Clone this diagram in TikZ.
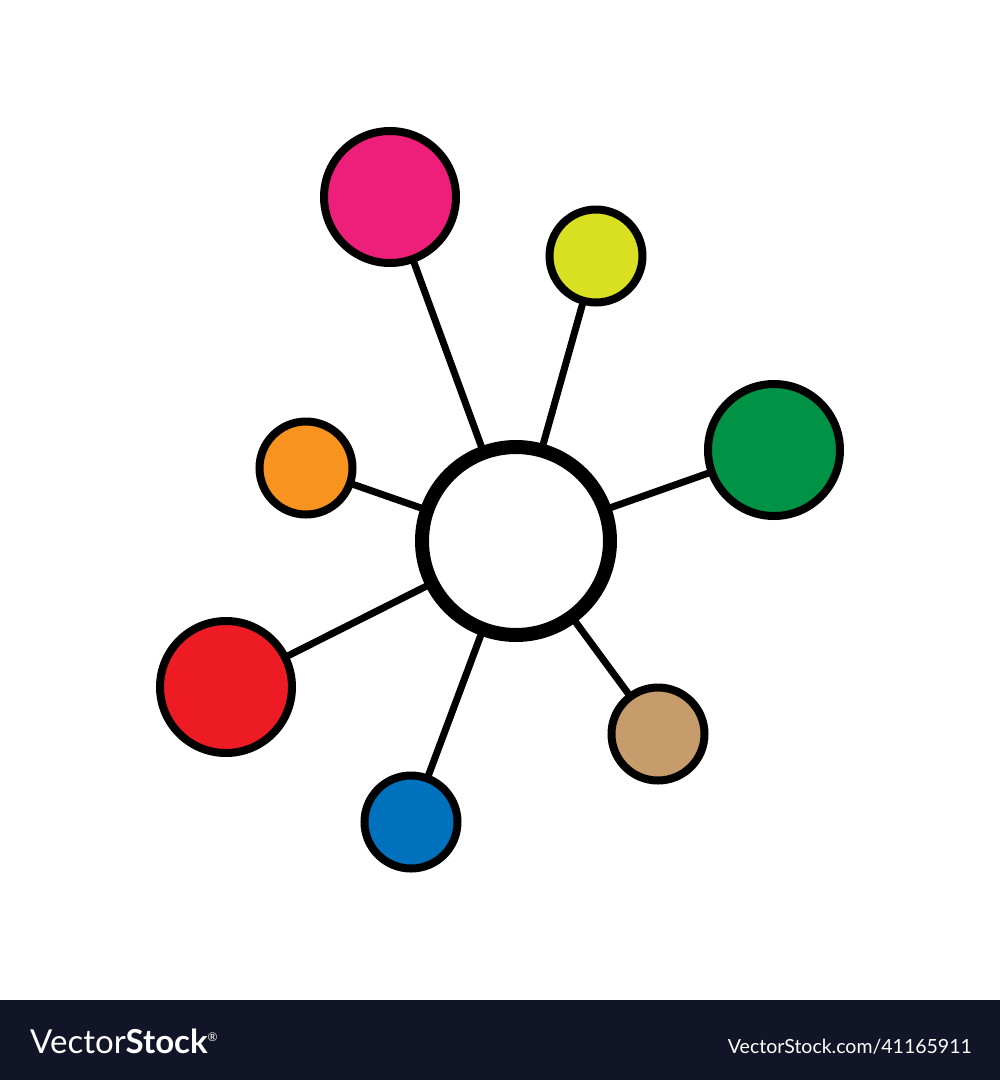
\documentclass[tikz,border=0pt]{standalone}
\usepackage{fontspec}
\setmainfont{Lato}
\definecolor{cmag}{HTML}{EE1F7B}
\definecolor{cyel}{HTML}{D9E021}
\definecolor{cgrn}{HTML}{009245}
\definecolor{cora}{HTML}{F7931E}
\definecolor{cred}{HTML}{ED1C24}
\definecolor{cblu}{HTML}{0071BC}
\definecolor{ctan}{HTML}{C69C6D}
\definecolor{cbar}{HTML}{121427}
\begin{document}
\begin{tikzpicture}[x=1pt,y=-1pt,
  hub/.style={circle,draw=black,line width=14pt,fill=white,minimum size=188pt,inner sep=0pt},
  big/.style={circle,draw=black,line width=8pt,minimum size=132pt,inner sep=0pt},
  small/.style={circle,draw=black,line width=8pt,minimum size=93pt,inner sep=0pt},
  link/.style={line width=7pt,black}]
\useasboundingbox (0,0) rectangle (1000,1080);
\fill[white] (0,0) rectangle (1000,1080);
\coordinate (hc) at (516,541);
\coordinate (mc) at (390,197);
\coordinate (yc) at (596,256);
\coordinate (gc) at (774,450);
\coordinate (oc) at (306,468);
\coordinate (rc) at (226,687);
\coordinate (bc) at (411,822);
\coordinate (tc) at (658,734);
\foreach \p in {mc,yc,gc,oc,rc,bc,tc} \draw[link] (hc) -- (\p);
\node[hub] (hub) at (hc) {};
\node[big,fill=cmag] (mag) at (mc) {};
\node[small,fill=cyel] (yel) at (yc) {};
\node[big,fill=cgrn] (grn) at (gc) {};
\node[small,fill=cora] (ora) at (oc) {};
\node[big,fill=cred] (red) at (rc) {};
\node[small,fill=cblu] (blu) at (bc) {};
\node[small,fill=ctan] (tan) at (tc) {};
\fill[cbar] (0,1000) rectangle (1000,1080);
\node[anchor=base west,inner sep=0pt,text=white,font=\fontsize{33}{36}\selectfont] (logo) at (30,1053) {Vector\textbf{Stock}\raisebox{12pt}{\fontsize{12}{12}\selectfont\textregistered}};
\node[anchor=base east,inner sep=0pt,text=white,font=\fontsize{19.5}{24}\selectfont] (url) at (972,1053) {VectorStock.com/41165911};
\end{tikzpicture}
\end{document}
